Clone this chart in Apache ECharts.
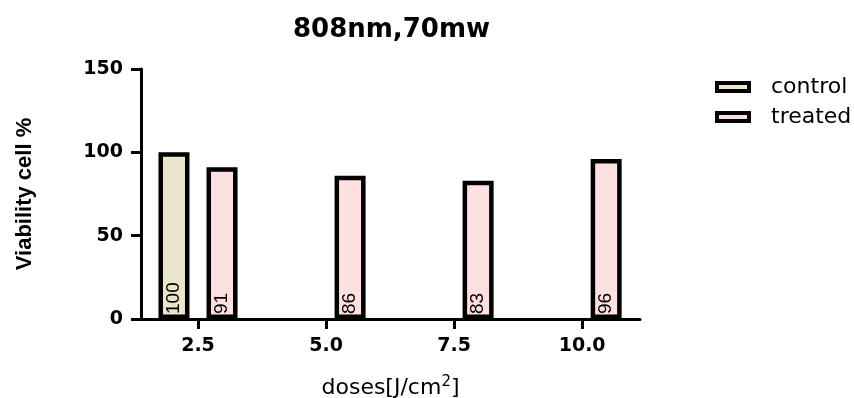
<!DOCTYPE html>
<html>
<head>
<meta charset="utf-8">
<script src="https://cdn.jsdelivr.net/npm/echarts@6/dist/echarts.min.js"></script>
<style>
html,body{margin:0;padding:0;background:#fff;}
#chart{width:854px;height:398px;}
</style>
</head>
<body>
<div id="chart"></div>
<script>
// ---- data ----
var doses = [2.5, 5.0, 7.5, 10.0];
var doseLabels = ['2.5', '5.0', '7.5', '10.0'];
var controlValues = [100, null, null, null];
var treatedValues = [91, 86, 83, 96];
var seriesNames = ['control', 'treated'];
var yTicks = [0, 50, 100, 150];

function pairs(vals) {
  var out = [];
  for (var i = 0; i < doses.length; i++) {
    if (vals[i] != null) out.push([doses[i], vals[i]]);
  }
  return out;
}

var chart = echarts.init(document.getElementById('chart'), null, {renderer: 'canvas'});

var labelOpt = {
  show: true,
  position: 'insideBottom',
  distance: 5,
  rotate: 90,
  align: 'left',
  verticalAlign: 'middle',
  color: '#000',
  fontFamily: 'Liberation Sans',
  fontSize: 19,
  formatter: function (p) { return p.value[1]; }
};

var option = {
  animation: false,
  backgroundColor: '#fff',
  title: {
    text: '808nm,70mw',
    left: 293,
    top: 17,
    padding: 0,
    textStyle: {fontFamily: 'DejaVu Sans', fontWeight: 'bold', fontSize: 26, color: '#000'}
  },
  legend: {
    orient: 'vertical',
    left: 715,
    top: 76,
    padding: 0,
    itemGap: 8,
    itemWidth: 32,
    itemHeight: 8,
    icon: 'rect',
    itemStyle: {borderWidth: 4, borderColor: '#000'},
    textStyle: {fontFamily: 'DejaVu Sans', fontSize: 22, color: '#000', padding: [0, 0, 0, 17]},
    data: seriesNames
  },
  grid: {left: 141, right: 214, top: 69, bottom: 79, outerBoundsMode: 'none', containLabel: false},
  xAxis: {
    type: 'value',
    min: 1.387,
    max: 11.13,
    name: 'doses[J/cm{sup|2}]',
    nameLocation: 'middle',
    nameGap: 56,
    nameTextStyle: {
      fontFamily: 'DejaVu Sans', fontSize: 22, color: '#000',
      rich: {sup: {fontFamily: 'DejaVu Sans', fontSize: 15, color: '#000', padding: [0, 0, 12, 0]}}
    },
    splitLine: {show: false},
    axisLine: {show: true, onZero: false, lineStyle: {color: '#000', width: 3}},
    axisTick: {show: true, length: 10, customValues: doses, lineStyle: {color: '#000', width: 3}},
    axisLabel: {
      customValues: doses,
      margin: 18,
      fontFamily: 'DejaVu Sans', fontWeight: 'bold', fontSize: 19, color: '#000',
      formatter: function (v) {
        var i = doses.indexOf(v);
        return i >= 0 ? doseLabels[i] : '';
      }
    }
  },
  yAxis: {
    type: 'value',
    min: yTicks[0],
    max: yTicks[yTicks.length - 1],
    interval: 50,
    name: 'Viability cell %',
    nameLocation: 'middle',
    nameGap: 105,
    nameTextStyle: {fontFamily: 'Liberation Sans', fontWeight: 'bold', fontSize: 22, color: '#000'},
    splitLine: {show: false},
    axisLine: {show: true, lineStyle: {color: '#000', width: 3}},
    axisTick: {show: true, length: 10, lineStyle: {color: '#000', width: 3}},
    axisLabel: {margin: 18, fontFamily: 'DejaVu Sans', fontWeight: 'bold', fontSize: 19, color: '#000'}
  },
  series: [
    {
      name: seriesNames[0],
      type: 'bar',
      barWidth: 31,
      barGap: '55%',
      data: pairs(controlValues),
      itemStyle: {color: '#EBE5C9', borderColor: '#000', borderWidth: 4.5},
      label: labelOpt
    },
    {
      name: seriesNames[1],
      type: 'bar',
      barWidth: 31,
      barGap: '55%',
      data: pairs(treatedValues),
      itemStyle: {color: '#FFE0E0', borderColor: '#000', borderWidth: 4.5},
      label: labelOpt
    }
  ]
};
chart.setOption(option);
</script>
</body>
</html>
